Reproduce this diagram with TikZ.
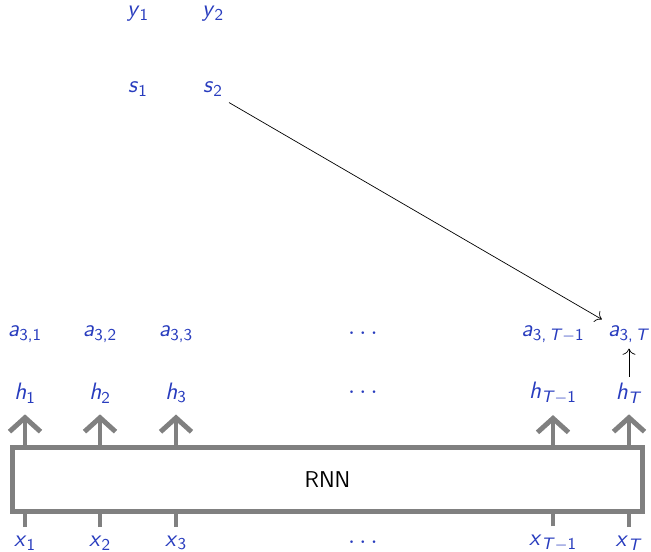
\documentclass[tikz,border=0pt]{standalone}
\usepackage{tikz}
\usetikzlibrary{arrows.meta,positioning}
\definecolor{Struct}{RGB}{40,60,190}
\definecolor{Box70}{RGB}{128,128,128}
% sans slanted variable with subscript
\newcommand{\sv}[2]{\textit{#1}\textsubscript{#2}}
\newcommand{\ssT}{\textit{T}}
\tikzset{
    every node/.style={font=\fontsize{13.5}{16}\selectfont\sffamily, text=Struct},
    rnnbox/.style={
        draw=Box70, fill=white, line width=2.8pt,
        minimum width=12.6cm, minimum height=1.28cm,
        text=black, font=\fontsize{13}{16}\selectfont\sffamily
    },
    outarrow/.style={
        -{Straight Barb[length=0.28cm,width=0.62cm]}, line width=2.8pt, color=Box70,
        shorten >=0.1cm
    },
    instub/.style={
        line width=2.8pt, color=Box70, shorten <=0.05cm
    },
    attarrow/.style={
        -{To[scale=1.4]}, thin, color=black
    },
}
\begin{document}
\begin{tikzpicture}
    \useasboundingbox (0,0) rectangle (13.02,11.04);

    % Inputs
    \node (x1) at (0.5,0.18) {\sv{x}{1}};
    \node (x2) at (2.0,0.18) {\sv{x}{2}};
    \node (x3) at (3.52,0.18) {\sv{x}{3}};
    \node (xd) at (7.26,0.18) {$\cdots$};
    \node (xTm) at (11.06,0.18) {\sv{x}{\ssT$-$1}};
    \node (xT) at (12.58,0.18) {\sv{x}{\ssT}};

    % Encoder
    \node[rnnbox] (rnn) at (6.55,1.45) {RNN};

    % Hidden states
    \node (h1) at (0.5,3.18) {\sv{h}{1}};
    \node (h2) at (2.0,3.18) {\sv{h}{2}};
    \node (h3) at (3.52,3.18) {\sv{h}{3}};
    \node (hd) at (7.26,3.18) {$\cdots$};
    \node (hTm) at (11.06,3.18) {\sv{h}{\ssT$-$1}};
    \node (hT) at (12.58,3.18) {\sv{h}{\ssT}};

    % Attention weights
    \node (a1) at (0.5,4.36) {\sv{a}{3,1}};
    \node (a2) at (2.0,4.36) {\sv{a}{3,2}};
    \node (a3) at (3.52,4.36) {\sv{a}{3,3}};
    \node (ad) at (7.26,4.36) {$\cdots$};
    \node (aTm) at (11.06,4.36) {\sv{a}{3,\,\ssT$-$1}};
    \node (aT) at (12.58,4.36) {\sv{a}{3,\,\ssT}};

    % Decoder
    \node (s1) at (2.76,9.26) {\sv{s}{1}};
    \node (s2) at (4.26,9.26) {\sv{s}{2}};
    \node (y1) at (2.76,10.76) {\sv{y}{1}};
    \node (y2) at (4.26,10.76) {\sv{y}{2}};

    % Connections
    \foreach \n in {x1,x2,x3,xTm,xT}
        \draw[instub] (\n.north) -- (\n |- rnn.south);
    \foreach \n in {h1,h2,h3,hTm,hT}
        \draw[outarrow] (\n |- rnn.north) -- (\n.south);
    \draw[attarrow] (hT.north) -- (aT.south);
    \draw[attarrow] (s2.south east) -- (aT.north west);
\end{tikzpicture}
\end{document}
